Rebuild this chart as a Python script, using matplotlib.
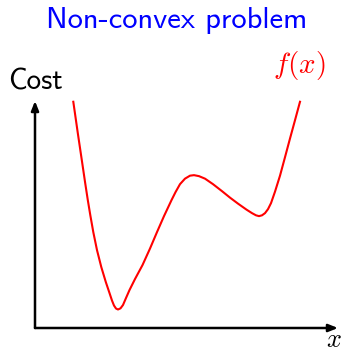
import matplotlib
matplotlib.use("Agg")
import matplotlib.pyplot as plt

# curve (axis units: x arrow ends at 10, y arrow at 7.5)
cost_x = [1.264, 1.413, 1.545, 1.657, 1.743, 1.825, 1.924, 2.046, 2.188, 2.337,
          2.459, 2.541, 2.607, 2.673, 2.739, 2.822, 2.904, 3.003, 3.119, 3.300,
          3.548, 3.795, 4.026, 4.257, 4.505, 4.637, 4.785, 4.950, 5.116, 5.248,
          5.413, 5.611, 5.875, 6.172, 6.436, 6.700, 6.980, 7.162, 7.294, 7.393,
          7.492, 7.591, 7.690, 7.789, 7.921, 8.086, 8.251, 8.416, 8.581, 8.746]
cost_y = [7.475, 6.436, 5.545, 4.785, 4.224, 3.729, 3.168, 2.574, 2.013, 1.518,
          1.155, 0.908, 0.743, 0.644, 0.611, 0.650, 0.759, 0.990, 1.254, 1.617,
          2.079, 2.624, 3.168, 3.696, 4.224, 4.488, 4.752, 4.934, 5.033, 5.050,
          5.017, 4.934, 4.752, 4.521, 4.307, 4.109, 3.911, 3.795, 3.723, 3.696,
          3.723, 3.795, 3.927, 4.125, 4.505, 5.033, 5.644, 6.261, 6.865, 7.475]

title = "Non-convex problem"
ylabel = "Cost"
xlabel = r"$x$"
curve_label = r"$f(x)$"

fig = plt.figure(figsize=(3.46, 3.53), dpi=100)
ax = fig.add_axes([35 / 346, 25 / 353, 303 / 346, 227 / 353])
ax.set_xlim(0, 10)
ax.set_ylim(0, 7.5)
ax.axis("off")

ax.plot(cost_x, cost_y, color="#ff0000", lw=1.5, solid_joinstyle="round", clip_on=False)

arrow = dict(arrowstyle="-|>,head_length=0.55,head_width=0.22", color="black", lw=1.8,
             shrinkA=0, shrinkB=0)
ax.annotate("", xy=(10, 0), xytext=(0, 0), arrowprops=arrow, annotation_clip=False)
ax.annotate("", xy=(0, 7.5), xytext=(0, 0), arrowprops=arrow, annotation_clip=False)

fig.text(177 / 346, 1 - 28 / 353, title, color="#0000ff", fontsize=22,
         family="cmss10", ha="center", va="baseline")
fig.text(35.5 / 346, 1 - 90 / 353, ylabel, color="black", fontsize=21,
         family="cmss10", ha="center", va="baseline")
fig.text(299 / 346, 1 - 65 / 353, curve_label, color="#ff0000", fontsize=21,
         math_fontfamily="cm", ha="center", va="center")
fig.text(334 / 346, 1 - 340 / 353, xlabel, color="black", fontsize=19,
         math_fontfamily="cm", ha="center", va="center")

fig.savefig("out.png", dpi=100)
